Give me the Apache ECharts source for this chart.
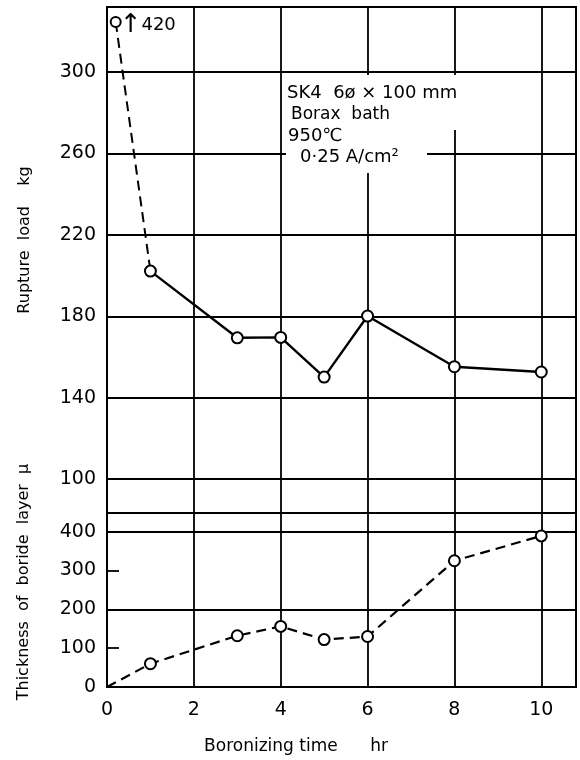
<!DOCTYPE html>
<html>
<head>
<meta charset="utf-8">
<script src="https://cdn.jsdelivr.net/npm/echarts@6/dist/echarts.min.js"></script>
<style>html,body{margin:0;padding:0;background:#fff;}#c{width:580px;height:760px;}</style>
</head>
<body>
<div id="c"></div>
<script>
// ---- data ----
const xRupture = [1, 3, 4, 5, 6, 8, 10];
const ruptureLoad = [202.2, 169.4, 169.6, 150.1, 180.1, 155.2, 152.6];
const xOutlier = [0.2, 1];
const outlierLoad = [324.6, 202.2];      // plotted position (off-scale point)
const outlierLabel = '420';
const xThickness = [0, 1, 3, 4, 5, 6, 8, 10];
const thickness = [0, 60, 132, 156, 122, 130, 325, 389];
const ruptureTicks = [100, 140, 180, 220, 260, 300];
const noteLines = ['SK4  6ø × 100 mm', 'Borax  bath', '950℃', '0·25 A/cm²'];
const xTitle = 'Boronizing time      hr';
const yTitleTop = 'Rupture  load    kg';
const yTitleBottom = 'Thickness  of  boride  layer  μ';

const FONT = 'DejaVu Sans';
const pair = (xs, ys) => xs.map((x, i) => [x, ys[i]]);

const chart = echarts.init(document.getElementById('c'), null, {renderer: 'canvas'});
const gridLine = {show: true, lineStyle: {color: '#000', width: 1.8}};
const symStyle = {color: '#fff', borderColor: '#000', borderWidth: 2};

chart.setOption({
  animation: false,
  backgroundColor: '#fff',
  grid: [
    {left: 107, right: 4, top: 7, height: 506, show: true, borderColor: '#000', borderWidth: 2, backgroundColor: 'transparent'},
    {left: 107, right: 4, top: 513, height: 174, show: true, borderColor: '#000', borderWidth: 2, backgroundColor: 'transparent'}
  ],
  xAxis: [
    {type: 'value', gridIndex: 0, min: 0, max: 10.8, interval: 2,
     axisLine: {show: false}, axisTick: {show: false}, axisLabel: {show: false}, splitLine: gridLine},
    {type: 'value', gridIndex: 1, min: 0, max: 10.8, interval: 2,
     axisLine: {show: false}, axisTick: {show: false},
     axisLabel: {show: true, showMaxLabel: false, margin: 14, color: '#000', fontFamily: FONT, fontSize: 19},
     splitLine: gridLine}
  ],
  yAxis: [
    {type: 'value', gridIndex: 0, min: 83.3, max: 332,
     axisLine: {show: false},
     axisTick: {show: false, customValues: ruptureTicks},
     axisLabel: {customValues: ruptureTicks, margin: 11, color: '#000', fontFamily: FONT, fontSize: 19},
     splitLine: gridLine},
    {type: 'value', gridIndex: 1, min: 0, max: 448, interval: 100,
     axisLine: {show: false},
     axisTick: {show: true, inside: true, length: 12, lineStyle: {color: '#000', width: 1.8}},
     axisLabel: {showMaxLabel: false, margin: 11, color: '#000', fontFamily: FONT, fontSize: 19},
     splitLine: {show: false}},
    {type: 'value', gridIndex: 1, min: 0, max: 448, interval: 200, position: 'left',
     axisLine: {show: false}, axisTick: {show: false}, axisLabel: {show: false},
     splitLine: gridLine}
  ],
  series: [
    {type: 'line', xAxisIndex: 0, yAxisIndex: 0, z: 5,
     data: pair(xOutlier, outlierLoad).map((p, i) => i === 0 ? {value: p,
        label: {show: true, position: 'right', distance: 1, offset: [-3, 3],
          formatter: '{a|↑}{n|' + outlierLabel + '}',
          rich: {a: {fontFamily: FONT, fontSize: 26, color: '#000', padding: 0},
                 n: {fontFamily: FONT, fontSize: 18, color: '#000'}}}} : {value: p, symbol: 'none'}),
     symbol: 'circle', symbolSize: 10, itemStyle: symStyle,
     lineStyle: {color: '#000', width: 2, type: [10, 6]}},
    {type: 'line', xAxisIndex: 0, yAxisIndex: 0, z: 6,
     data: pair(xRupture, ruptureLoad),
     symbol: 'circle', symbolSize: 11, itemStyle: symStyle,
     lineStyle: {color: '#000', width: 2.4}},
    {type: 'line', xAxisIndex: 1, yAxisIndex: 1, z: 6,
     data: pair(xThickness, thickness).map((p, i) => i === 0 ? {value: p, symbol: 'none'} : p),
     symbol: 'circle', symbolSize: 11, itemStyle: symStyle,
     lineStyle: {color: '#000', width: 2.2, type: [10, 6]}}
  ],
  graphic: [
    {type: 'rect', z: 10, shape: {x: 286, y: 75, width: 182, height: 55}, style: {fill: '#fff'}},
    {type: 'rect', z: 10, shape: {x: 286, y: 130, width: 141, height: 43}, style: {fill: '#fff'}},
    {type: 'text', z: 11, x: 287, y: 93, style: {text: noteLines[0], fontFamily: FONT, fontSize: 18, fill: '#000', verticalAlign: 'middle'}},
    {type: 'text', z: 11, x: 291, y: 115, style: {text: noteLines[1], fontFamily: FONT, fontSize: 17, fill: '#000', verticalAlign: 'middle'}},
    {type: 'text', z: 11, x: 288, y: 136, style: {text: noteLines[2], fontFamily: FONT, fontSize: 18, fill: '#000', verticalAlign: 'middle'}},
    {type: 'text', z: 11, x: 300, y: 157, style: {text: noteLines[3], fontFamily: FONT, fontSize: 18, fill: '#000', verticalAlign: 'middle'}},
    {type: 'text', z: 11, x: 296, y: 747, style: {text: xTitle, fontFamily: FONT, fontSize: 17, fill: '#000', align: 'center', verticalAlign: 'middle'}},
    {type: 'text', z: 11, x: 25, y: 240, rotation: Math.PI / 2, style: {text: yTitleTop, fontFamily: FONT, fontSize: 16, fill: '#000', align: 'center', verticalAlign: 'middle'}},
    {type: 'text', z: 11, x: 24, y: 582, rotation: Math.PI / 2, style: {text: yTitleBottom, fontFamily: FONT, fontSize: 16, fill: '#000', align: 'center', verticalAlign: 'middle'}}
  ]
});
</script>
</body>
</html>
